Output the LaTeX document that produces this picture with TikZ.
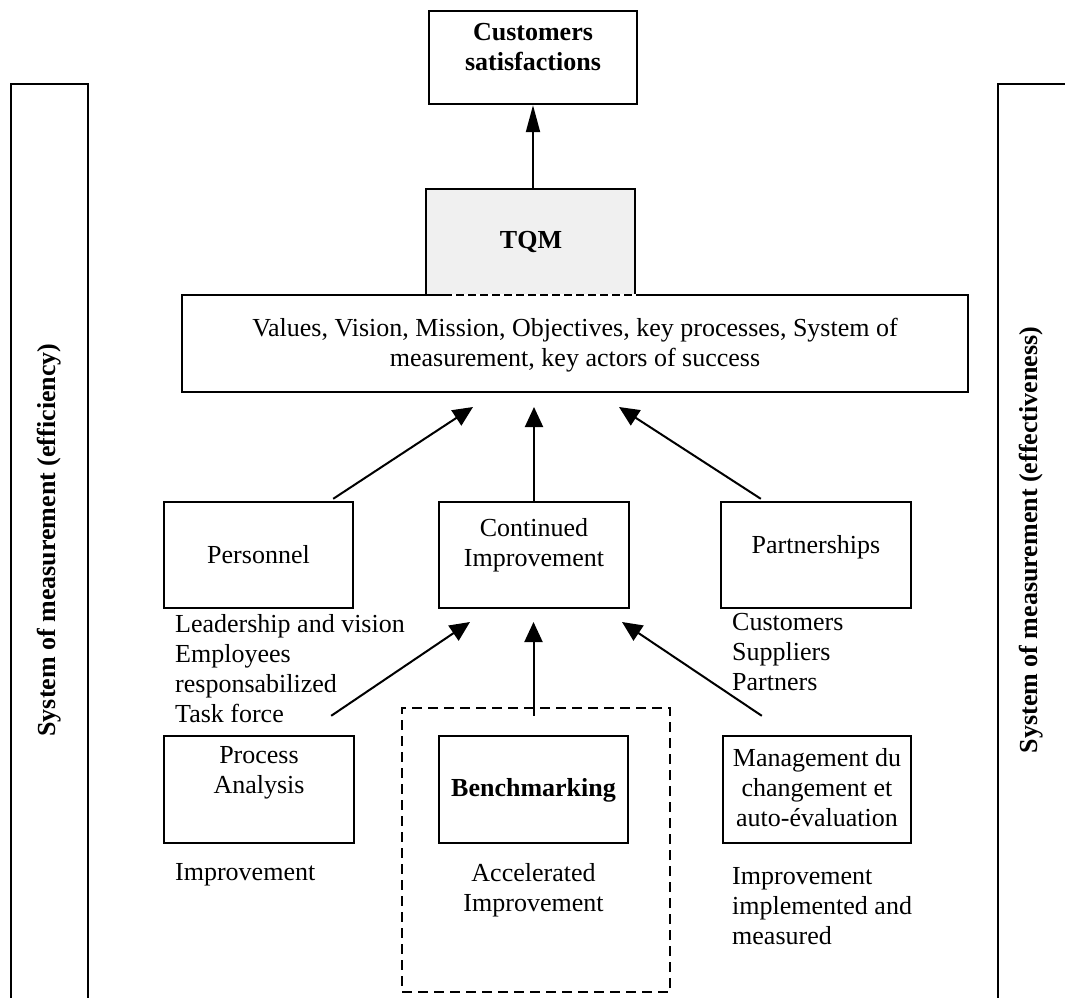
\documentclass[tikz,border=0pt]{standalone}
\usepackage{fontspec}
\setmainfont{Liberation Serif}
\usetikzlibrary{arrows.meta}
\tikzset{
  boxst/.style={draw, line width=2.4pt, inner sep=0pt},
  txt/.style={font=\fontsize{26}{30}\selectfont, inner sep=0pt, align=center},
  btxt/.style={font=\bfseries\fontsize{26}{30}\selectfont, inner sep=0pt, align=center},
  txtl/.style={font=\fontsize{26}{30}\selectfont, inner sep=0pt, align=left, anchor=north west},
  arr/.style={line width=2pt, -{Triangle[length=20pt,width=18pt]}},
  arrtop/.style={line width=2pt, -{Triangle[length=27pt,width=14pt]}},
  side/.style={font=\bfseries\fontsize{26}{30}\selectfont, rotate=90, inner sep=0pt},
  sideframe/.style={line width=2.4pt},
  dashbox/.style={draw, line width=2.4pt, dash pattern=on 10pt off 6pt, inner sep=0pt},
}
\begin{document}
\begin{tikzpicture}[x=1pt,y=-1pt]
\useasboundingbox[fill=white] (0,0) rectangle (1065,998);

% side frames (open at the bottom)
\draw[sideframe] (11,1005) -- (11,84) -- (88,84) -- (88,1005);
\draw[sideframe] (998,1005) -- (998,84) -- (1075,84);
\node[side] (lefttxt) at (49,540) {System of measurement (efficiency)};
\node[side] (righttxt) at (1031,540) {System of measurement (effectiveness)};

% top boxes
\node[boxst, minimum width=208pt, minimum height=93pt] (cs) at (533,57.5) {};
\node[btxt] (cstxt) at (533,47) {Customers\\satisfactions};

\node[boxst, fill=black!6, minimum width=209pt, minimum height=106pt] (tqm) at (530.5,242) {};
\node[btxt] (tqmtxt) at (531,242) {TQM};

\node[boxst, minimum width=786pt, minimum height=97pt] (val) at (575,343.5) {};
\node[txt] (valtxt) at (575,345) {Values, Vision, Mission, Objectives, key processes, System of\\measurement, key actors of success};
% dashed joint between TQM and values box
\draw[white, line width=2.6pt, dash pattern=on 4pt off 8pt] (452,295) -- (640,295);

% middle row
\node[boxst, minimum width=189pt, minimum height=106pt] (pers) at (258.5,555) {};
\node[txt] (perstxt) at (258.5,555) {Personnel};
\node[boxst, minimum width=190pt, minimum height=106pt] (cont) at (534,555) {};
\node[txt] (conttxt) at (534,545) {Continued\\Improvement};
\node[boxst, minimum width=190pt, minimum height=106pt] (part) at (816,555) {};
\node[txt] (parttxt) at (816,547) {Partnerships};

\node[txtl] (perslist) at (175,614) {Leadership and vision\\Employees\\responsabilized\\Task force};
\node[txtl] (partlist) at (732,613) {Customers\\Suppliers\\Partners};

% bottom row
\node[dashbox, minimum width=268pt, minimum height=284pt] (bench) at (536,850) {};
\node[boxst, minimum width=190pt, minimum height=107pt] (proc) at (259,789.5) {};
\node[txt] (proctxt) at (259,773) {Process\\Analysis};
\node[boxst, minimum width=189pt, minimum height=107pt] (bm) at (533.5,789.5) {};
\node[btxt] (bmtxt) at (533.5,790) {Benchmarking};
\node[boxst, minimum width=188pt, minimum height=107pt] (mgmt) at (817,789.5) {};
\node[txt] (mgmttxt) at (817,788) {Management du\\changement et\\auto-évaluation};

\node[txtl] (proclist) at (175,863) {Improvement};
\node[txt, anchor=north] (bmlist) at (533.5,863) {Accelerated\\Improvement};
\node[txtl] (mgmtlist) at (732,867) {Improvement\\implemented and\\measured};

% arrow tips
\coordinate (t1) at (473,407);
\coordinate (t2) at (534,407);
\coordinate (t3) at (619,407);
\coordinate (b1) at (470,622);
\coordinate (b2) at (533.5,622);
\coordinate (b3) at (622,622);

% connectors
\draw[arrtop] (cs.south |- tqm.north) -- (cs.south);
\draw[arr] ([xshift=-21pt,yshift=2pt]pers.north east) -- (t1);
\draw[arr] (cont.north) -- (t2);
\draw[arr] ([xshift=41pt,yshift=2pt]part.north west) -- (t3);
\draw[arr] ([xshift=-24pt,yshift=19pt]proc.north east) -- (b1);
\draw[arr] ([yshift=19pt]bm.north) -- (b2);
\draw[arr] ([xshift=40pt,yshift=19pt]mgmt.north west) -- (b3);
\end{tikzpicture}
\end{document}
